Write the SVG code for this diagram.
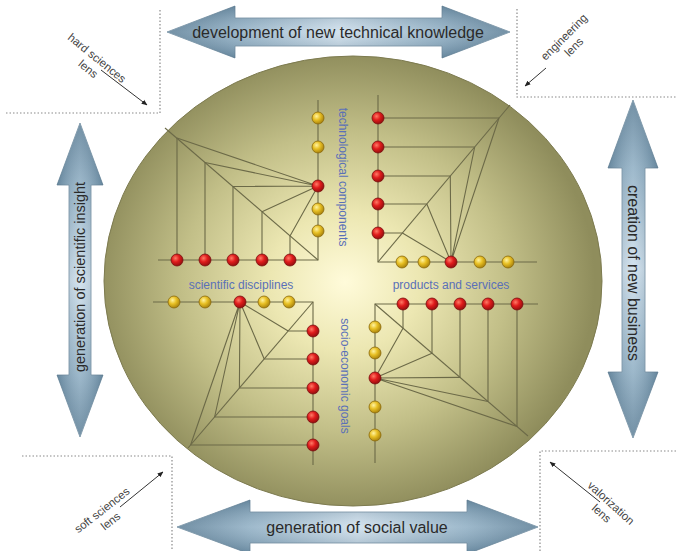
<svg xmlns="http://www.w3.org/2000/svg" width="676" height="551" viewBox="0 0 676 551">
  <defs>
    <radialGradient id="gField" cx="345" cy="282" r="250" gradientUnits="userSpaceOnUse" gradientTransform="translate(345 282) scale(1 0.92) translate(-345 -282)">
      <stop offset="0" stop-color="#fffbda"/>
      <stop offset="0.3" stop-color="#ece7b2"/>
      <stop offset="0.65" stop-color="#c2bf88"/>
      <stop offset="1" stop-color="#8f8d5c"/>
    </radialGradient>
    <radialGradient id="gRed" cx="0.38" cy="0.35" r="0.7">
      <stop offset="0" stop-color="#ff7a66"/>
      <stop offset="0.45" stop-color="#e01c1c"/>
      <stop offset="1" stop-color="#8c0d0d"/>
    </radialGradient>
    <radialGradient id="gYel" cx="0.38" cy="0.35" r="0.7">
      <stop offset="0" stop-color="#fff3a0"/>
      <stop offset="0.45" stop-color="#e8c024"/>
      <stop offset="1" stop-color="#a27c0a"/>
    </radialGradient>
    <linearGradient id="gArrowH" x1="0" y1="0" x2="1" y2="0">
      <stop offset="0" stop-color="#50758f"/>
      <stop offset="0.2" stop-color="#86a8bf"/>
      <stop offset="0.5" stop-color="#c9dcea"/>
      <stop offset="0.8" stop-color="#86a8bf"/>
      <stop offset="1" stop-color="#50758f"/>
    </linearGradient>
    <linearGradient id="gArrowV" x1="0" y1="0" x2="0" y2="1">
      <stop offset="0" stop-color="#50758f"/>
      <stop offset="0.2" stop-color="#86a8bf"/>
      <stop offset="0.5" stop-color="#c9dcea"/>
      <stop offset="0.8" stop-color="#86a8bf"/>
      <stop offset="1" stop-color="#50758f"/>
    </linearGradient>
    <linearGradient id="gShadeH" x1="0" y1="0" x2="0" y2="1">
      <stop offset="0" stop-color="#2c4a60" stop-opacity="0.35"/>
      <stop offset="0.5" stop-color="#ffffff" stop-opacity="0.2"/>
      <stop offset="1" stop-color="#2c4a60" stop-opacity="0.35"/>
    </linearGradient>
    <linearGradient id="gShadeV" x1="0" y1="0" x2="1" y2="0">
      <stop offset="0" stop-color="#2c4a60" stop-opacity="0.35"/>
      <stop offset="0.5" stop-color="#ffffff" stop-opacity="0.2"/>
      <stop offset="1" stop-color="#2c4a60" stop-opacity="0.35"/>
    </linearGradient>
    <marker id="tip" viewBox="0 0 10 10" refX="9" refY="5" markerWidth="6" markerHeight="6" orient="auto" markerUnits="userSpaceOnUse">
      <path d="M0 1 L10 5 L0 9 z" fill="#222"/>
    </marker>
    <style>
      .edge{fill:none;stroke:#6c6a48;stroke-width:1.1}
      .r{fill:url(#gRed);stroke:#7a0f0f;stroke-width:0.8}
      .y{fill:url(#gYel);stroke:#8a6a0c;stroke-width:0.8}
      .axis{font-family:"Liberation Sans",Arial,sans-serif;font-size:12px;fill:#5a70b8}
      .big{font-family:"Liberation Sans",Arial,sans-serif;font-size:16px;fill:#2a2a2a;text-anchor:middle}
      .lens{font-family:"Liberation Sans",Arial,sans-serif;font-size:11.5px;fill:#444;text-anchor:middle}
      .frame{fill:none;stroke:#8a8a8a;stroke-width:1.2;stroke-dasharray:1.5 2}
      .ptr{stroke:#333;stroke-width:1;marker-end:url(#tip)}
      .arrow{stroke:#6f8ba0;stroke-width:0.8}
    </style>
  </defs>

  <rect width="676" height="551" fill="#ffffff"/>

  <!-- central field -->
  <g id="field">
    <ellipse cx="353" cy="281" rx="249" ry="225" fill="url(#gField)" stroke="#7d7b50" stroke-width="1"/>
  </g>

  <!-- lens frames -->
  <g id="frames">
    <polyline class="frame" points="160,10 160,113 6,113"/>
    <polyline class="frame" points="517,9 517,97 676,97"/>
    <polyline class="frame" points="22,456 172,456 172,551"/>
    <polyline class="frame" points="676,451 540,451 540,551"/>
  </g>

  <!-- lens labels -->
  <g id="lens-hard">
    <g transform="translate(97 58) rotate(39)">
      <text class="lens" x="0" y="4">hard sciences</text>
      <text class="lens" x="0" y="18">lens</text>
    </g>
    <line class="ptr" x1="101" y1="70" x2="147" y2="105"/>
  </g>
  <g id="lens-engineering">
    <g transform="translate(564 37) rotate(-45)">
      <text class="lens" x="0" y="4">engineering</text>
      <text class="lens" x="0" y="18">lens</text>
    </g>
    <line class="ptr" x1="546" y1="68" x2="525" y2="86"/>
  </g>
  <g id="lens-soft">
    <g transform="translate(102 510) rotate(-38)">
      <text class="lens" x="0" y="4">soft sciences</text>
      <text class="lens" x="0" y="18">lens</text>
    </g>
    <line class="ptr" x1="120" y1="507" x2="163" y2="472"/>
  </g>
  <g id="lens-valorization">
    <g transform="translate(611 503) rotate(42)">
      <text class="lens" x="0" y="4">valorization</text>
      <text class="lens" x="0" y="18">lens</text>
    </g>
    <line class="ptr" x1="600" y1="502" x2="550" y2="462"/>
  </g>

  <!-- value arrows -->
  <g id="arrow-top">
    <polygon class="arrow" fill="url(#gArrowH)" points="167,32 235,6 235,18 442,18 442,6 510,32 442,58 442,46 235,46 235,58"/>
    <polygon fill="url(#gShadeH)" points="167,32 235,6 235,18 442,18 442,6 510,32 442,58 442,46 235,46 235,58"/>
    <text class="big" x="338" y="38">development of new technical knowledge</text>
  </g>
  <g id="arrow-bottom">
    <polygon class="arrow" fill="url(#gArrowH)" points="177,527 250,500 250,512 467,512 467,500 538,527 467,554 467,543 250,543 250,554"/>
    <polygon fill="url(#gShadeH)" points="177,527 250,500 250,512 467,512 467,500 538,527 467,554 467,543 250,543 250,554"/>
    <text class="big" x="357" y="533">generation of social value</text>
  </g>
  <g id="arrow-left">
    <polygon class="arrow" fill="url(#gArrowV)" points="80,123 103,185 91,185 91,375 103,375 80,437 57,375 69,375 69,185 57,185"/>
    <polygon fill="url(#gShadeV)" points="80,123 103,185 91,185 91,375 103,375 80,437 57,375 69,375 69,185 57,185"/>
    <text class="big" style="font-size:14.5px" transform="translate(85 277) rotate(-90)">generation of scientific insight</text>
  </g>
  <g id="arrow-right">
    <polygon class="arrow" fill="url(#gArrowV)" points="633,100 658,168 645,168 645,372 658,372 633,438 608,372 622,372 622,168 608,168"/>
    <polygon fill="url(#gShadeV)" points="633,100 658,168 645,168 645,372 658,372 633,438 608,372 622,372 622,168 608,168"/>
    <text class="big" transform="translate(628 273) rotate(90)">creation of new  business</text>
  </g>

  <!-- connectors: axes and trees in the four quadrants -->
  <g id="connectors">
    <!-- top-left: scientific disciplines to technological components -->
    <path class="edge" d="M318 100 V260 H158"/>
    <path class="edge" d="M165 128 L318 260"/>
    <path class="edge" d="M177 260 V138 M205 260 V162.5 M233 260 V186.5 M262 260 V211.7 M290 260 V236"/>
    <path class="edge" d="M318 186 L177 138 M318 186 L205 162.5 M318 186 L233 186.5 M318 186 L262 211.7 M318 186 L290 236"/>
    <!-- top-right: technological components to products and services -->
    <path class="edge" d="M378 95 V262 H537"/>
    <path class="edge" d="M378 262 L510 105"/>
    <path class="edge" d="M378 118 H499 M378 147 H474.7 M378 176 H450.3 M378 204 H426.8 M378 233 H402.4"/>
    <path class="edge" d="M451 262 L499 118 M451 262 L474.7 147 M451 262 L450.3 176 M451 262 L426.8 204 M451 262 L402.4 233"/>
    <!-- bottom-left: scientific disciplines to socio-economic goals -->
    <path class="edge" d="M153 302 H313 V465"/>
    <path class="edge" d="M313 302 L188 448"/>
    <path class="edge" d="M313 331 H288.2 M313 359 H264.2 M313 388 H239.4 M313 417 H214.6 M313 445 H190.6"/>
    <path class="edge" d="M240 302 L288.2 331 M240 302 L264.2 359 M240 302 L239.4 388 M240 302 L214.6 417 M240 302 L190.6 445"/>
    <!-- bottom-right: products and services to socio-economic goals -->
    <path class="edge" d="M375 463 V304 H538"/>
    <path class="edge" d="M375 304 L528 436"/>
    <path class="edge" d="M403 304 V328.2 M432 304 V353.2 M460 304 V377.4 M488 304 V401.5 M517 304 V426.5"/>
    <path class="edge" d="M375 378 L403 328.2 M375 378 L432 353.2 M375 378 L460 377.4 M375 378 L488 401.5 M375 378 L517 426.5"/>
  </g>

  <!-- axis labels -->
  <g id="labels">
    <text class="axis" text-anchor="middle" transform="translate(343 177) rotate(90)" dy="0.35em">technological components</text>
    <text class="axis" text-anchor="middle" transform="translate(345 376) rotate(90)" dy="0.35em">socio-economic goals</text>
    <text class="axis" text-anchor="middle" x="241" y="289">scientific disciplines</text>
    <text class="axis" text-anchor="middle" x="451" y="289">products and services</text>
  </g>

  <!-- nodes: top-left quadrant -->
  <g id="tl-h1"><circle class="r" cx="177" cy="260" r="6"/></g>
  <g id="tl-h2"><circle class="r" cx="205" cy="260" r="6"/></g>
  <g id="tl-h3"><circle class="r" cx="233" cy="260" r="6"/></g>
  <g id="tl-h4"><circle class="r" cx="262" cy="260" r="6"/></g>
  <g id="tl-h5"><circle class="r" cx="290" cy="260" r="6"/></g>
  <g id="tl-v1"><circle class="y" cx="318" cy="118" r="6"/></g>
  <g id="tl-v2"><circle class="y" cx="318" cy="147" r="6"/></g>
  <g id="tl-v3"><circle class="r" cx="318" cy="186" r="6"/></g>
  <g id="tl-v4"><circle class="y" cx="318" cy="209" r="6"/></g>
  <g id="tl-v5"><circle class="y" cx="318" cy="231" r="6"/></g>

  <!-- nodes: top-right quadrant -->
  <g id="tr-v1"><circle class="r" cx="378" cy="118" r="6"/></g>
  <g id="tr-v2"><circle class="r" cx="378" cy="147" r="6"/></g>
  <g id="tr-v3"><circle class="r" cx="378" cy="176" r="6"/></g>
  <g id="tr-v4"><circle class="r" cx="378" cy="204" r="6"/></g>
  <g id="tr-v5"><circle class="r" cx="378" cy="233" r="6"/></g>
  <g id="tr-h1"><circle class="y" cx="402" cy="262" r="6"/></g>
  <g id="tr-h2"><circle class="y" cx="424" cy="262" r="6"/></g>
  <g id="tr-h3"><circle class="r" cx="451" cy="262" r="6"/></g>
  <g id="tr-h4"><circle class="y" cx="480" cy="262" r="6"/></g>
  <g id="tr-h5"><circle class="y" cx="508" cy="262" r="6"/></g>

  <!-- nodes: bottom-left quadrant -->
  <g id="bl-h1"><circle class="y" cx="174" cy="302" r="6"/></g>
  <g id="bl-h2"><circle class="y" cx="205" cy="302" r="6"/></g>
  <g id="bl-h3"><circle class="r" cx="240" cy="302" r="6"/></g>
  <g id="bl-h4"><circle class="y" cx="264" cy="302" r="6"/></g>
  <g id="bl-h5"><circle class="y" cx="289" cy="302" r="6"/></g>
  <g id="bl-v1"><circle class="r" cx="313" cy="331" r="6"/></g>
  <g id="bl-v2"><circle class="r" cx="313" cy="359" r="6"/></g>
  <g id="bl-v3"><circle class="r" cx="313" cy="388" r="6"/></g>
  <g id="bl-v4"><circle class="r" cx="313" cy="417" r="6"/></g>
  <g id="bl-v5"><circle class="r" cx="313" cy="445" r="6"/></g>

  <!-- nodes: bottom-right quadrant -->
  <g id="br-h1"><circle class="r" cx="403" cy="304" r="6"/></g>
  <g id="br-h2"><circle class="r" cx="432" cy="304" r="6"/></g>
  <g id="br-h3"><circle class="r" cx="460" cy="304" r="6"/></g>
  <g id="br-h4"><circle class="r" cx="488" cy="304" r="6"/></g>
  <g id="br-h5"><circle class="r" cx="517" cy="304" r="6"/></g>
  <g id="br-v1"><circle class="y" cx="375" cy="327" r="6"/></g>
  <g id="br-v2"><circle class="y" cx="375" cy="353" r="6"/></g>
  <g id="br-v3"><circle class="r" cx="375" cy="378" r="6"/></g>
  <g id="br-v4"><circle class="y" cx="375" cy="407" r="6"/></g>
  <g id="br-v5"><circle class="y" cx="375" cy="435" r="6"/></g>
</svg>
